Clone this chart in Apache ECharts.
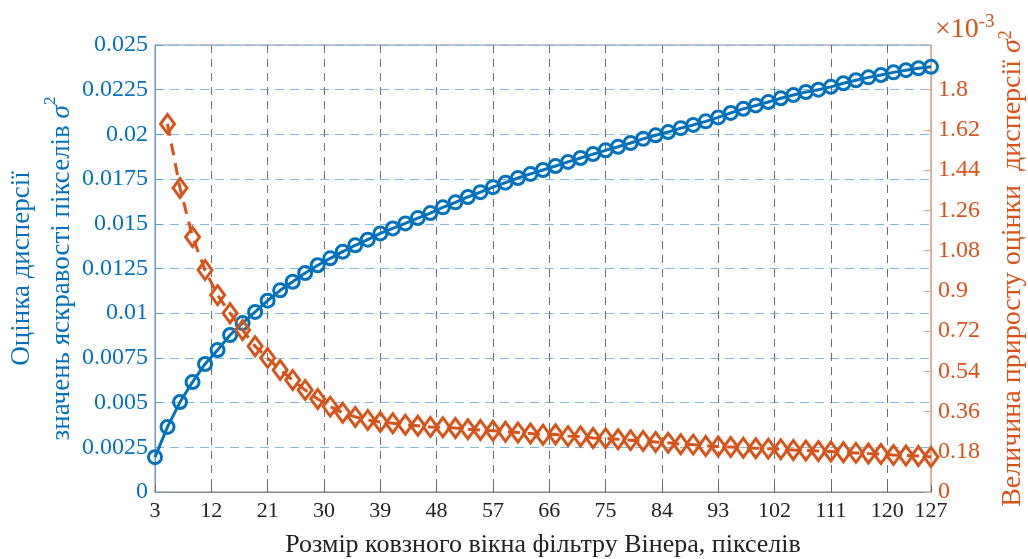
<!DOCTYPE html>
<html><head><meta charset="utf-8">
<script src="https://cdn.jsdelivr.net/npm/echarts@6/dist/echarts.min.js"></script>
<style>html,body{margin:0;padding:0;background:#fff}#c{width:1028px;height:559px}</style>
</head><body><div id="c"></div>
<script>
// Window sizes (pixels)
const windowSizes = [3,5,7,9,11,13,15,17,19,21,23,25,27,29,31,33,35,37,39,41,43,45,47,49,51,53,55,57,59,61,63,65,67,69,71,73,75,77,79,81,83,85,87,89,91,93,95,97,99,101,103,105,107,109,111,113,115,117,119,121,123,125,127];
// Variance estimate (left axis)
const varianceEstimate = [0.00195,0.00364,0.00503,0.00615,0.00716,0.00794,0.00878,0.00945,0.01007,0.01070,0.01128,0.01176,0.01225,0.01268,0.01307,0.01344,0.01380,0.01411,0.01446,0.01474,0.01502,0.01532,0.01560,0.01592,0.01620,0.01650,0.01677,0.01705,0.01730,0.01756,0.01779,0.01801,0.01823,0.01846,0.01868,0.01890,0.01911,0.01931,0.01952,0.01975,0.01995,0.02013,0.02035,0.02053,0.02073,0.02095,0.02120,0.02143,0.02162,0.02181,0.02202,0.02220,0.02237,0.02250,0.02266,0.02286,0.02303,0.02319,0.02332,0.02347,0.02359,0.02370,0.02378];
// Variance increment (right axis, x10^-3), windows 5..127
const incrementWindows = windowSizes.slice(1);
const varianceIncrement = [1.647,1.360,1.141,0.993,0.881,0.800,0.725,0.652,0.600,0.546,0.501,0.456,0.416,0.382,0.355,0.336,0.322,0.313,0.308,0.301,0.296,0.291,0.290,0.286,0.281,0.277,0.274,0.270,0.266,0.262,0.256,0.258,0.250,0.248,0.242,0.240,0.236,0.232,0.228,0.224,0.220,0.214,0.212,0.206,0.204,0.201,0.198,0.196,0.194,0.191,0.188,0.186,0.183,0.181,0.178,0.175,0.172,0.170,0.166,0.163,0.161,0.157];
// Tick labels
const xTicks = [3,12,21,30,39,48,57,66,75,84,93,102,111,120,127];
const leftTicks = [0,0.0025,0.005,0.0075,0.01,0.0125,0.015,0.0175,0.02,0.0225,0.025];
const rightTicks = [0,0.18,0.36,0.54,0.72,0.9,1.08,1.26,1.44,1.62,1.8];

const BLUE = '#0072BD', ORANGE = '#D95319';
const SERIF = "'Liberation Serif','Times New Roman',serif";
const chart = echarts.init(document.getElementById('c'), null, {renderer:'canvas'});
chart.setOption({
  animation: false,
  backgroundColor: '#fff',
  grid: {left:155, right:97, top:45, bottom:67, show:true, borderColor:'#8a8a8a', borderWidth:1,
         containLabel:false, outerBoundsMode:'none'},
  xAxis: {
    type:'value', min:3, max:127,
    name:'Розмір ковзного вікна фільтру Вінера, пікселів',
    nameLocation:'middle', nameGap:40,
    nameTextStyle:{color:'#222', fontFamily:SERIF, fontSize:26},
    axisLine:{show:true, lineStyle:{color:'#8a8a8a', width:1}},
    axisTick:{show:true, inside:true, length:7, customValues:xTicks, lineStyle:{color:'#666'}},
    axisLabel:{customValues:xTicks, color:'#222', fontFamily:SERIF, fontSize:22, margin:8},
    splitLine:{show:true, lineStyle:{color:'#6e6e6e', type:[8,6], width:1}}
  },
  yAxis: [{
    type:'value', min:0, max:0.025, interval:0.0025, position:'left',
    name:'Оцінка дисперсії\nзначень яскравості пікселів {s|σ}{p|2}',
    nameLocation:'middle', nameRotate:90, nameGap:73, nameMoveOverlap:false,
    nameTextStyle:{color:BLUE, fontFamily:SERIF, fontSize:27, lineHeight:40,
      rich:{s:{fontFamily:SERIF, fontStyle:'italic', fontSize:27, color:BLUE},
            p:{fontFamily:SERIF, fontSize:17, color:BLUE, verticalAlign:'top', lineHeight:30}}},
    axisLine:{show:true, lineStyle:{color:'#5aa0d6', width:1}},
    axisTick:{show:true, inside:true, length:7, lineStyle:{color:'#5aa0d6'}},
    axisLabel:{color:BLUE, fontFamily:SERIF, fontSize:24, margin:7,
      formatter:v=>String(parseFloat(v.toFixed(5)))},
    splitLine:{show:true, lineStyle:{color:'#7dbbe6', type:[9,6], width:1.2}}
  },{
    type:'value', min:0, max:2, position:'right',
    name:'Величина приросту оцінки  дисперсії {s|σ}{p|2}',
    nameLocation:'middle', nameRotate:90, nameGap:66,
    nameTextStyle:{color:ORANGE, fontFamily:SERIF, fontSize:28,
      rich:{s:{fontFamily:SERIF, fontStyle:'italic', fontSize:28, color:ORANGE},
            p:{fontFamily:SERIF, fontSize:18, color:ORANGE, verticalAlign:'top', lineHeight:32}}},
    axisLine:{show:true, lineStyle:{color:'#f0a27e', width:1}},
    axisTick:{show:true, inside:true, length:7, customValues:rightTicks, lineStyle:{color:'#f0a27e'}},
    axisLabel:{customValues:rightTicks, color:ORANGE, fontFamily:SERIF, fontSize:24, margin:7},
    splitLine:{show:false}
  }],
  graphic:[{
    type:'text', left:935, top:13,
    style:{text:'×10{p|-3}', fill:ORANGE, font:"28px 'Liberation Serif', serif",
      rich:{p:{fontSize:19, fontFamily:SERIF, fill:ORANGE, verticalAlign:'top', lineHeight:34}}}
  }],
  series: [{
    type:'line', yAxisIndex:0, z:3,
    data: windowSizes.map((w,i)=>[w, varianceEstimate[i]]),
    symbol:'circle', symbolSize:13,
    lineStyle:{color:BLUE, width:3},
    itemStyle:{color:'rgba(255,255,255,0)', borderColor:BLUE, borderWidth:3}
  },{
    type:'line', yAxisIndex:1, z:4,
    data: incrementWindows.map((w,i)=>[w, varianceIncrement[i]]),
    symbol:'diamond', symbolSize:[14,19],
    lineStyle:{color:ORANGE, width:3, type:[12,8]},
    itemStyle:{color:'rgba(255,255,255,0)', borderColor:ORANGE, borderWidth:3}
  }]
});
</script></body></html>
